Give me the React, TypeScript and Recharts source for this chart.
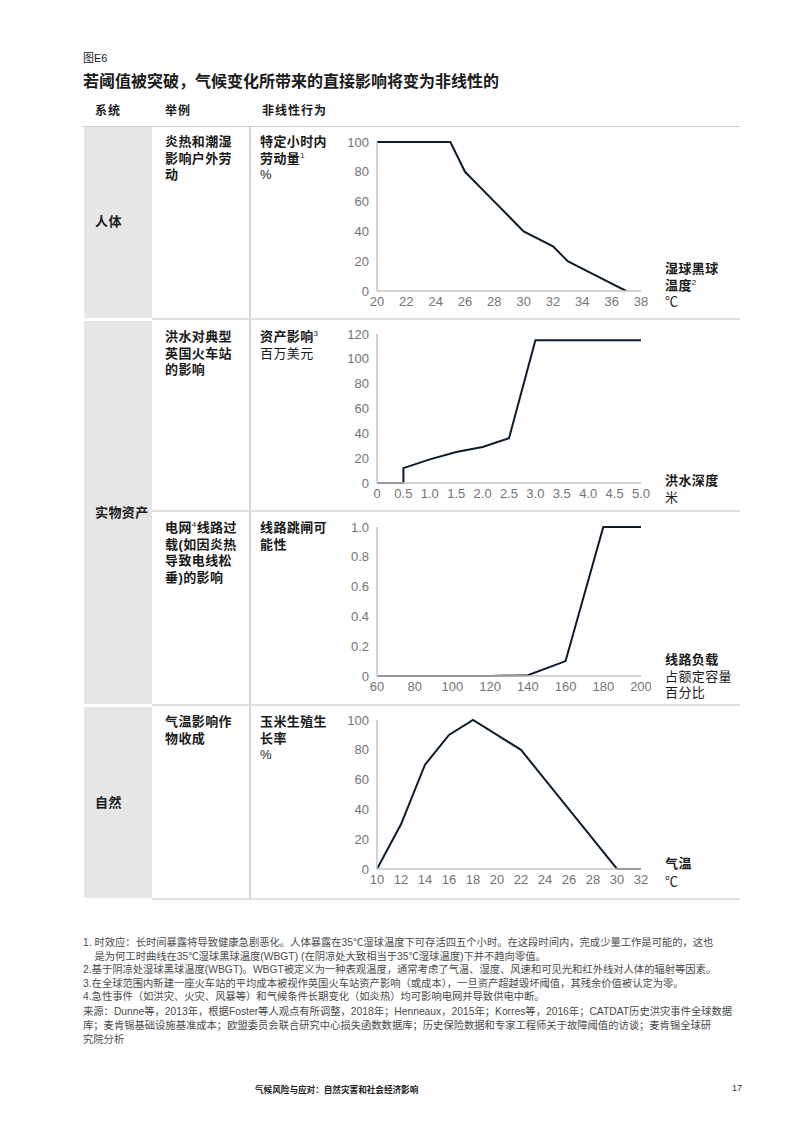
import React from "react";
import { LineChart, Line, XAxis, YAxis } from "recharts";

// ---------- data ----------
const laborTemp = [20, 25, 26, 28, 30, 32, 33, 35, 36, 37];
const laborPct = [100, 100, 80, 60, 40, 30, 20, 10, 5, 0];
const laborXTicks = [20, 22, 24, 26, 28, 30, 32, 34, 36, 38];
const laborYTicks = [0, 20, 40, 60, 80, 100];

const floodDepth = [0, 0.5, 0.5, 1.0, 1.5, 2.0, 2.5, 3.0, 5.0];
const floodCost = [0, 0, 12, 19, 25, 29, 36, 115, 115];
const floodXTicks = [0, 0.5, 1.0, 1.5, 2.0, 2.5, 3.0, 3.5, 4.0, 4.5, 5.0];
const floodYTicks = [0, 20, 40, 60, 80, 100, 120];

const gridLoad = [60, 120, 140, 160, 180, 200];
const gridTrip = [0, 0, 0.005, 0.1, 1.0, 1.0];
const gridXTicks = [60, 80, 100, 120, 140, 160, 180, 200];
const gridYTicks = [0, 0.2, 0.4, 0.6, 0.8, 1.0];

const cornTemp = [10, 12, 14, 16, 18, 20, 22, 24, 26, 28, 30, 32];
const cornRate = [0, 30, 70, 90, 100, 90, 80, 60, 40, 20, 0, 0];
const cornXTicks = [10, 12, 14, 16, 18, 20, 22, 24, 26, 28, 30, 32];
const cornYTicks = [0, 20, 40, 60, 80, 100];

const footnotes = [
  "1. 时效应：长时间暴露将导致健康急剧恶化。人体暴露在35℃湿球温度下可存活四五个小时。在这段时间内，完成少量工作是可能的，这也",
  "    是为何工时曲线在35℃湿球黑球温度(WBGT) (在阴凉处大致相当于35℃湿球温度)下并不趋向零值。",
  "2.基于阴凉处湿球黑球温度(WBGT)。WBGT被定义为一种表观温度，通常考虑了气温、湿度、风速和可见光和红外线对人体的辐射等因素。",
  "3.在全球范围内新建一座火车站的平均成本被视作英国火车站资产影响（或成本），一旦资产超越毁坏阈值，其残余价值被认定为零。",
  "4.急性事件（如洪灾、火灾、风暴等）和气候条件长期变化（如炎热）均可影响电网并导致供电中断。",
  "来源：Dunne等，2013年，根据Foster等人观点有所调整，2018年；Henneaux，2015年；Korres等，2016年；CATDAT历史洪灾事件全球数据",
  "库；麦肯锡基础设施基准成本；欧盟委员会联合研究中心损失函数数据库；历史保险数据和专家工程师关于故障阈值的访谈；麦肯锡全球研",
  "究院分析",
];

const zip = (xs: number[], ys: number[]) => xs.map((x, i) => ({ x, y: ys[i] }));

const CJK = '"Liberation Sans", "Noto Sans CJK SC", sans-serif';
const NUM = '"Liberation Sans", Arial, sans-serif';

const tickStyle = { fontSize: 13, fill: "#747474", fontFamily: NUM };

function Panel(props: {
  top: number;
  data: { x: number; y: number }[];
  xTicks: number[];
  yTicks: number[];
  xFmt?: (v: number) => string;
  yFmt?: (v: number) => string;
}) {
  const { top, data, xTicks, yTicks, xFmt, yFmt } = props;
  return (
    <div style={{ position: "absolute", left: 290, top: top - 10 }}>
      <LineChart
        width={361}
        height={189}
        data={data}
        margin={{ top: 10, right: 10, bottom: 0, left: 0 }}
      >
        <XAxis
          dataKey="x"
          type="number"
          domain={[xTicks[0], xTicks[xTicks.length - 1]]}
          ticks={xTicks}
          tickFormatter={xFmt}
          interval={0}
          axisLine={{ stroke: "#c4c4c4", strokeWidth: 1.5 }}
          tickLine={false}
          tick={tickStyle}
          tickSize={4}
          tickMargin={2}
          height={30}
        />
        <YAxis
          type="number"
          domain={[yTicks[0], yTicks[yTicks.length - 1]]}
          ticks={yTicks}
          tickFormatter={yFmt}
          interval={0}
          axisLine={{ stroke: "#c4c4c4", strokeWidth: 1.5 }}
          tickLine={false}
          tick={tickStyle}
          width={87}
        />
        <Line
          dataKey="y"
          type="linear"
          stroke="#0d1b2a"
          strokeWidth={2}
          dot={false}
          isAnimationActive={false}
        />
      </LineChart>
    </div>
  );
}

const Sup = ({ c }: { c: string }) => (
  <span style={{ fontSize: 8, verticalAlign: "super", fontWeight: 400, lineHeight: 0 }}>{c}</span>
);

function Lines(props: {
  left: number;
  top: number;
  lines: React.ReactNode[];
  bold?: boolean[];
  size?: number;
  lh?: number;
}) {
  const { left, top, lines, bold, size = 13, lh = 16.5 } = props;
  return (
    <div
      style={{
        position: "absolute",
        left,
        top,
        fontSize: size,
        lineHeight: `${lh}px`,
        color: "#1a1a1a",
        letterSpacing: 0.4,
        whiteSpace: "nowrap",
      }}
    >
      {lines.map((l, i) => (
        <div key={i} style={{ fontWeight: bold ? (bold[i] ? 700 : 400) : 700 }}>
          {l}
        </div>
      ))}
    </div>
  );
}

const fmt1 = (v: number) => (v === 0 ? "0" : v.toFixed(1));

export default function App() {
  const gray = "#e6e6e6";
  const sep = "#e0e0e0";
  const head = { position: "absolute" as const, top: 101, fontSize: 12, fontWeight: 700, letterSpacing: 1 };
  return (
    <div
      style={{
        position: "absolute",
        left: 0,
        top: 0,
        width: 793,
        height: 1121,
        background: "#fff",
        fontFamily: CJK,
        color: "#1a1a1a",
      }}
    >
      <div style={{ position: "absolute", left: 83, top: 51, fontSize: 11, lineHeight: "14px" }}>图E6</div>
      <div
        style={{
          position: "absolute",
          left: 83,
          top: 72,
          fontSize: 16,
          lineHeight: "20px",
          fontWeight: 700,
          whiteSpace: "nowrap",
        }}
      >
        若阈值被突破，气候变化所带来的直接影响将变为非线性的
      </div>
      {/* header */}
      <div style={{ ...head, left: 95 }}>系统</div>
      <div style={{ ...head, left: 165 }}>举例</div>
      <div style={{ ...head, left: 262 }}>非线性行为</div>
      <div style={{ position: "absolute", left: 83, top: 126, width: 657, height: 1, background: "#cfcfcf" }} />

      {/* gray system column */}
      <div style={{ position: "absolute", left: 84, top: 127, width: 68, height: 191, background: gray }} />
      <div style={{ position: "absolute", left: 84, top: 321, width: 68, height: 383, background: gray }} />
      <div style={{ position: "absolute", left: 84, top: 707, width: 68, height: 191, background: gray }} />

      {/* separators */}
      <div style={{ position: "absolute", left: 249, top: 127, width: 1.5, height: 772, background: "#d2d2d2" }} />
      <div style={{ position: "absolute", left: 152, top: 318, width: 588, height: 2, background: sep }} />
      <div style={{ position: "absolute", left: 152, top: 510, width: 588, height: 1.5, background: sep }} />
      <div style={{ position: "absolute", left: 152, top: 704, width: 588, height: 2, background: sep }} />
      <div style={{ position: "absolute", left: 152, top: 898, width: 588, height: 2, background: sep }} />

      {/* system labels */}
      <Lines left={95} top={214} lines={["人体"]} />
      <Lines left={95} top={505} lines={["实物资产"]} />
      <Lines left={95} top={795} lines={["自然"]} />

      {/* row 1 */}
      <Lines left={165} top={134} lines={["炎热和潮湿", "影响户外劳", "动"]} />
      <Lines
        left={260}
        top={134}
        lines={["特定小时内", <>劳动量<Sup c="1" /></>, "%"]}
        bold={[true, true, false]}
      />
      <Panel top={142} data={zip(laborTemp, laborPct)} xTicks={laborXTicks} yTicks={laborYTicks} />
      <Lines
        left={665}
        top={261}
        lines={["湿球黑球", <>温度<Sup c="2" /></>, "℃"]}
        bold={[true, true, false]}
      />

      {/* row 2a */}
      <Lines left={165} top={329} lines={["洪水对典型", "英国火车站", "的影响"]} />
      <Lines
        left={260}
        top={329}
        lines={[<>资产影响<Sup c="3" /></>, "百万美元"]}
        bold={[true, false]}
      />
      <Panel
        top={334}
        data={zip(floodDepth, floodCost)}
        xTicks={floodXTicks}
        yTicks={floodYTicks}
        xFmt={fmt1}
      />
      <Lines left={665} top={473} lines={["洪水深度", "米"]} bold={[true, false]} />

      {/* row 2b */}
      <Lines
        left={165}
        top={520}
        lines={[<>电网<Sup c="4" />线路过</>, "载(如因炎热", "导致电线松", "垂)的影响"]}
      />
      <Lines left={260} top={520} lines={["线路跳闸可", "能性"]} />
      <Panel
        top={527}
        data={zip(gridLoad, gridTrip)}
        xTicks={gridXTicks}
        yTicks={gridYTicks}
        yFmt={fmt1}
      />
      <Lines
        left={665}
        top={652}
        lines={["线路负载", "占额定容量", "百分比"]}
        bold={[true, false, false]}
      />

      {/* row 3 */}
      <Lines left={165} top={714} lines={["气温影响作", "物收成"]} />
      <Lines left={260} top={714} lines={["玉米生殖生", "长率", "%"]} bold={[true, true, false]} />
      <Panel top={720} data={zip(cornTemp, cornRate)} xTicks={cornXTicks} yTicks={cornYTicks} />
      <Lines left={665} top={855} lines={["气温", "℃"]} bold={[true, false]} lh={18} />

      {/* footnotes */}
      <div
        style={{
          position: "absolute",
          left: 83,
          top: 936,
          fontSize: 10.3,
          lineHeight: "13.6px",
          color: "#4a4a4a",
          whiteSpace: "pre",
        }}
      >
        {footnotes.map((f, i) => (
          <div key={i} style={{ marginTop: i === 5 ? 1.5 : 0 }}>
            {f}
          </div>
        ))}
      </div>

      {/* footer */}
      <div
        style={{
          position: "absolute",
          left: 255,
          top: 1083,
          fontSize: 8.6,
          fontWeight: 700,
          color: "#222",
          whiteSpace: "nowrap",
        }}
      >
        气候风险与应对：自然灾害和社会经济影响
      </div>
      <div style={{ position: "absolute", left: 732, top: 1083, fontSize: 9, fontFamily: NUM, color: "#333" }}>17</div>
    </div>
  );
}
